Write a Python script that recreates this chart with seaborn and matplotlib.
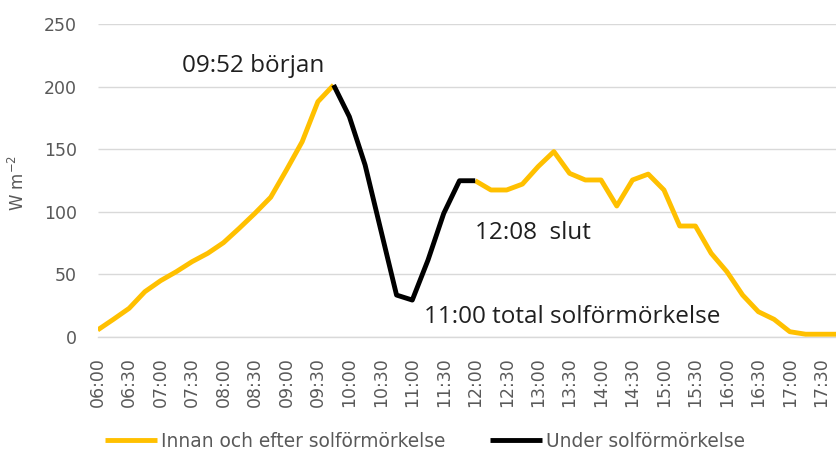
# %% Solar irradiance during the eclipse (Excel-style line chart)
import numpy as np
import pandas as pd
import matplotlib
matplotlib.use('Agg')
import matplotlib.pyplot as plt
import seaborn as sns

# %% Data
times = ['06:00', '06:15', '06:30', '06:45', '07:00', '07:15', '07:30', '07:45',
         '08:00', '08:15', '08:30', '08:45', '09:00', '09:15', '09:30', '09:45',
         '10:00', '10:15', '10:30', '10:45', '11:00', '11:15', '11:30', '11:45',
         '12:00', '12:15', '12:30', '12:45', '13:00', '13:15', '13:30', '13:45',
         '14:00', '14:15', '14:30', '14:45', '15:00', '15:15', '15:30', '15:45',
         '16:00', '16:15', '16:30', '16:45', '17:00', '17:15', '17:30', '17:45']
irradiance = [5.4, 13.9, 22.7, 36, 44.8, 52, 60, 66.7,
              75.2, 86.7, 98.7, 111.5, 133.3, 155.9, 187.9, 201.2,
              175.9, 137.3, 85.3, 33.3, 29.3, 61.3, 98.6, 124.7,
              124.7, 117.3, 117.3, 122, 136, 148, 130.6, 125.3,
              125.3, 104.5, 125.3, 130, 117.3, 88.5, 88.5, 66.7,
              52, 33.3, 20, 13.9, 4, 2, 2, 2]
eclipse_start = '09:45'
eclipse_end = '12:00'
series_names = ['Innan och efter solförmörkelse', 'Under solförmörkelse']
series_colors = ['#FFC000', '#000000']

# %% Build long table: three segments, two series
i0 = times.index(eclipse_start)
i1 = times.index(eclipse_end)
rows = []
for i in range(len(times)):
    if i <= i0:
        rows.append((i, times[i], irradiance[i], series_names[0], 'before'))
    if i0 <= i <= i1:
        rows.append((i, times[i], irradiance[i], series_names[1], 'during'))
    if i >= i1:
        rows.append((i, times[i], irradiance[i], series_names[0], 'after'))
df = pd.DataFrame(rows, columns=['pos', 'time', 'value', 'serie', 'segment'])

# %% Plot
sns.set_style('white')
plt.rcParams['font.family'] = ['DejaVu Sans']
plt.rcParams['lines.solid_joinstyle'] = 'round'
plt.rcParams['lines.solid_capstyle'] = 'butt'

grey = '#595959'
gridc = '#d9d9d9'

fig = plt.figure(figsize=(8.37, 4.51), dpi=100)
ax = fig.add_axes([0.1167, 0.2534, 1 - 0.1167, 0.9468 - 0.2534])

sns.lineplot(data=df, x='pos', y='value', hue='serie', units='segment', estimator=None,
             palette=dict(zip(series_names, series_colors)), linewidth=3.5,
             legend=False, ax=ax, zorder=3)

ax.set_xlim(0, 46.7)
ax.set_ylim(0, 250)
ax.set_yticks(np.arange(0, 251, 50))
ax.set_xticks(range(len(times)))
ax.set_xticklabels([t if i % 2 == 0 else '' for i, t in enumerate(times)], rotation=90)

ax.grid(axis='y', color=gridc, linewidth=1)
ax.set_axisbelow(True)
for s in ['top', 'right', 'left']:
    ax.spines[s].set_visible(False)
ax.spines['bottom'].set_color(gridc)
ax.spines['bottom'].set_linewidth(1)

ax.tick_params(axis='x', direction='inout', length=10, width=1, color=gridc,
               labelsize=12.5, labelcolor=grey, pad=10)
ax.tick_params(axis='y', length=0, labelsize=12.5, labelcolor=grey, pad=15)
ax.set_xlabel('')
ax.set_ylabel('')
fig.text(18 / 837, 1 - 183 / 451, 'W m$^{-2}$', rotation=90, ha='center', va='center',
         fontsize=12, color=grey)

# Annotations
annot = dict(ha='left', va='baseline', fontsize=17.5, color='#1f1f1f', family=['Open Sans', 'DejaVu Sans'])
ax.text(5.35, 211.7, '09:52 början', **annot)
ax.text(23.98, 78.1, '12:08  slut', **annot)
ax.text(20.77, 11.2, '11:00 total solförmörkelse', **annot)

# Legend
handles = [plt.Line2D([], [], color=c, linewidth=3.5) for c in series_colors]
fig.legend(handles, series_names, loc='center', bbox_to_anchor=(0.508, 0.022), ncol=2,
           frameon=False, fontsize=13.4, handlelength=2.8, handletextpad=0.2,
           columnspacing=2.4, labelcolor=grey)

fig.savefig('out.png', dpi=100)
